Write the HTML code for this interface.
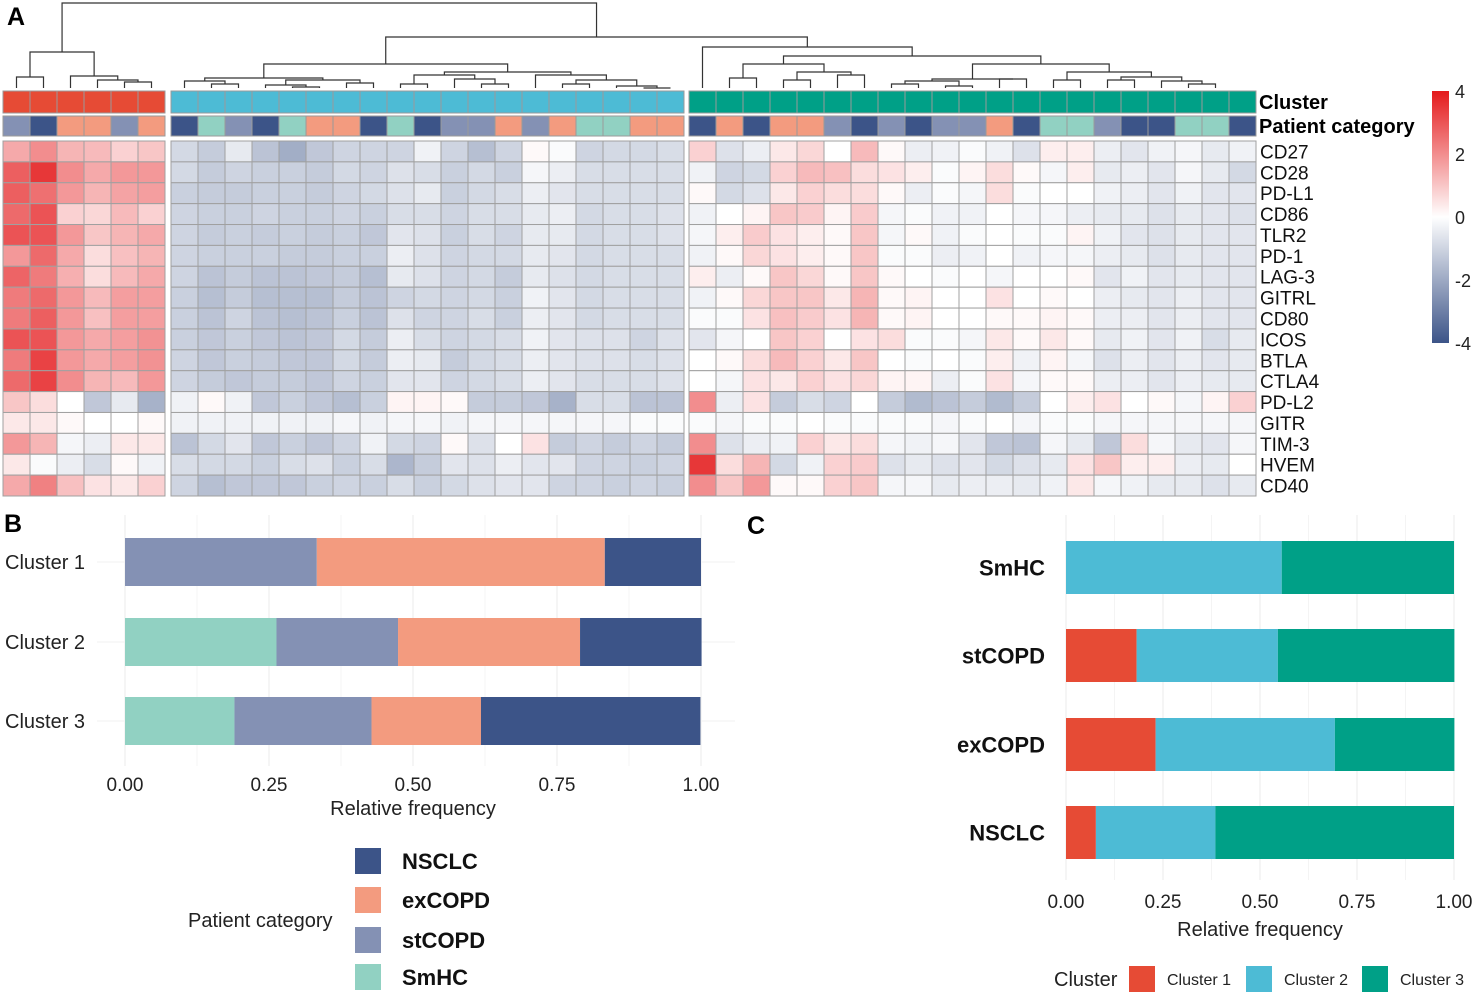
<!DOCTYPE html>
<html><head><meta charset="utf-8"><style>
html,body{margin:0;padding:0;background:#fff;}
svg{display:block;font-family:"Liberation Sans",sans-serif;}
</style></head><body>
<svg id="fig" width="1476" height="994" viewBox="0 0 1476 994">
<text x="7" y="25" font-size="25" font-weight="bold">A</text>
<text x="4" y="532" font-size="25" font-weight="bold">B</text>
<text x="747" y="534" font-size="25" font-weight="bold">C</text>
<g id="dendro"></g>
<g id="heat"></g>
<g id="cbar"></g>
<g id="chartB"></g>
<g id="chartC"></g>
</svg>
<script>
// ===== Heatmap data =====
const genes=["CD27","CD28","PD-L1","CD86","TLR2","PD-1","LAG-3","GITRL","CD80","ICOS","BTLA","CTLA4","PD-L2","GITR","TIM-3","HVEM","CD40"];
const clusterSizes=[6,19,21];
const patientCats=[
 ["st","NS","ex","ex","st","ex"],
 ["NS","Sm","st","NS","Sm","ex","ex","NS","Sm","NS","st","st","ex","st","ex","Sm","Sm","ex","ex"],
 ["NS","ex","NS","ex","ex","st","NS","st","NS","st","st","ex","NS","Sm","Sm","st","NS","NS","Sm","Sm","NS"]];
const heatC1=[
[1.5,2,1.3,1.2,0.8,1],[2.8,3.5,2,1.5,1.8,1.8],[2.8,2.5,1.8,1.3,1.6,1.7],[2.6,3,0.8,0.7,1.2,0.8],
[3,3,1.8,1,1.3,1.5],[1.8,2.6,1.5,0.6,1.1,1.3],[2.7,2.3,1.4,0.6,1.2,1.5],[2.3,2.6,1.8,1.2,1.7,1.7],
[2.3,2.8,1.8,1.1,1.7,1.7],[3,3,1.8,1.5,1.7,1.9],[2.3,3.3,1.8,1.5,1.7,1.9],[2.6,3.3,2,1.3,1.2,1.8],
[1,0.6,0,-1.3,-0.5,-1.8],[0.4,0.4,0.1,0,0,0.1],[1.8,1.3,-0.2,-0.4,0.4,0.4],[0.4,-0.1,-0.4,-0.8,0.1,-0.3],
[1.5,2.2,1.1,0.5,0.4,0.8]];
const heatC2=[
[-0.9,-1.2,-0.5,-1.4,-1.9,-1.3,-1.0,-1.0,-1.0,-0.3,-1.0,-1.5,-1.0,0.1,-0.1,-1.0,-0.9,-0.9,-0.8],
[-0.9,-1.2,-1.0,-1.1,-1.1,-1.2,-0.9,-1.0,-0.7,-0.8,-1.1,-0.9,-1.1,-0.2,-0.4,-0.8,-0.8,-0.8,-0.8],
[-1.1,-1.2,-1.2,-1.1,-1.1,-1.2,-1.0,-0.9,-0.7,-0.5,-1.1,-0.9,-0.8,-0.4,-0.6,-0.8,-0.8,-0.8,-0.8],
[-1.0,-1.1,-1.1,-1.0,-1.1,-1.1,-1.0,-1.1,-0.8,-0.8,-1.0,-0.8,-0.8,-0.5,-0.4,-0.9,-0.8,-0.8,-0.7],
[-1.0,-1.2,-1.1,-1.2,-1.1,-1.2,-1.1,-1.3,-0.6,-0.7,-1.1,-0.8,-1.0,-0.5,-0.5,-0.9,-0.8,-0.8,-0.7],
[-1.0,-1.1,-1.1,-1.1,-1.2,-1.2,-1.1,-1.1,-0.4,-0.7,-1.0,-0.9,-0.9,-0.5,-0.6,-0.9,-0.8,-0.8,-0.8],
[-1.0,-1.4,-1.2,-1.4,-1.4,-1.3,-1.2,-1.5,-0.5,-0.7,-1.0,-0.9,-1.2,-0.5,-0.7,-0.9,-0.8,-0.8,-0.8],
[-1.1,-1.5,-1.2,-1.5,-1.5,-1.5,-1.2,-1.4,-1.0,-0.9,-1.0,-0.9,-1.1,-0.3,-0.6,-0.9,-0.8,-0.8,-0.8],
[-1.1,-1.4,-1.0,-1.4,-1.5,-1.4,-1.1,-1.4,-0.7,-1.0,-1.0,-0.8,-1.1,-0.4,-0.6,-0.9,-0.8,-0.8,-0.8],
[-1.1,-1.3,-1.1,-1.3,-1.4,-1.3,-0.9,-1.2,-0.4,-0.8,-1.0,-0.9,-0.8,-0.3,-0.6,-0.7,-0.7,-1.0,-0.7],
[-1.0,-1.3,-1.1,-1.2,-1.3,-1.3,-0.9,-1.2,-0.4,-0.5,-1.2,-0.9,-0.8,-0.4,-0.6,-0.7,-0.7,-0.8,-0.7],
[-1.0,-1.2,-1.3,-1.2,-1.2,-1.3,-1.0,-1.1,-0.6,-0.6,-1.0,-0.9,-0.8,-0.4,-0.6,-0.8,-0.8,-0.8,-0.7],
[-0.3,0.1,-0.3,-1.3,-1.1,-1.3,-1.5,-1.1,0.2,0.2,0.1,-1.2,-1.2,-1.3,-1.8,-0.8,-0.8,-1.4,-1.4],
[-0.3,-0.3,-0.3,-0.3,-0.3,-0.3,-0.2,-0.3,-0.2,-0.2,-0.3,-0.2,-0.2,-0.2,-0.2,-0.2,-0.2,-0.1,-0.1],
[-1.4,-0.9,-0.6,-1.3,-1.1,-1.3,-1.0,-0.3,-0.9,-1.0,0.1,-0.7,0,0.5,-1.2,-1.0,-1.2,-1.0,-1.2],
[-0.8,-0.9,-0.9,-1.1,-0.8,-0.7,-1.1,-0.8,-1.7,-1.2,-0.6,-0.7,-0.4,-0.6,-0.6,-1.0,-1.0,-1.1,-1.0],
[-1.0,-1.5,-1.3,-1.3,-1.3,-1.1,-1.0,-1.1,-0.8,-1.1,-0.9,-0.7,-0.6,-0.6,-1.0,-1.0,-1.1,-1.0,-1.1]];
const heatC3=[
[0.8,-0.7,-0.4,0.4,0.7,0,1.2,0.1,-0.4,-0.3,-0.1,-0.3,-0.7,0.3,0.3,-0.4,-0.6,-0.3,-0.2,-0.5,-0.3],
[-0.3,-1.0,-0.9,0.8,1.2,1.1,0.6,0.5,0.3,-0.1,0.2,0.6,0.1,-0.2,0.3,-0.5,-0.4,-0.6,-0.2,-0.5,-0.9],
[0.1,-0.9,-0.7,0.4,0.8,0.6,0.6,0.1,-0.4,-0.1,-0.2,0.6,-0.1,0,0,-0.3,-0.4,-0.6,-0.3,-0.6,-0.6],
[-0.3,0,0.2,1.0,0.9,0.2,0.9,-0.2,-0.1,-0.3,-0.3,0,-0.2,-0.2,-0.4,-0.5,-0.5,-0.7,-0.5,-0.6,-0.7],
[-0.2,0.3,0.9,0.5,0.3,0.1,1.0,-0.2,0.1,-0.3,-0.1,0,-0.1,-0.1,0.2,-0.3,-0.6,-0.7,-0.5,-0.6,-0.6],
[-0.3,0.1,0.7,0.5,0.3,0.1,1.0,-0.1,-0.1,-0.4,-0.3,0,-0.3,-0.2,-0.2,-0.4,-0.5,-0.7,-0.5,-0.6,-0.6],
[0.3,-0.4,0.1,1.0,0.7,0.1,1.0,0.1,0,-0.1,0,-0.2,0,0,0.1,-0.6,-0.3,-0.6,-0.5,-0.6,-0.6],
[-0.3,0.1,0.7,1.0,1.0,0.4,1.3,0.1,0.2,0,0,0.5,0,0.1,0,-0.4,-0.5,-0.6,-0.4,-0.6,-0.6],
[-0.1,-0.1,0.5,1.1,0.9,0.5,1.3,0.1,0.2,0,0,0.1,0.1,0.2,0.1,-0.4,-0.4,-0.6,-0.4,-0.6,-0.6],
[-0.6,-0.2,0,1.0,0.8,0,0.5,0.6,-0.1,-0.1,-0.2,0.4,0.1,0.4,0.1,-0.5,-0.3,-0.6,-0.3,-0.8,-0.5],
[0,0.1,0.6,1.2,0.8,0.4,1.0,0,-0.1,0,-0.1,0.3,-0.3,0.2,-0.2,-0.7,-0.4,-0.6,-0.4,-0.6,-0.5],
[0,-0.2,0.5,0.4,0.8,0.5,0.7,0.2,0.2,-0.4,-0.1,0.5,-0.2,0.1,0.1,-0.4,-0.4,-0.6,-0.4,-0.5,-0.5],
[2.0,-0.4,0.5,-1.2,-0.8,-1.0,0,-1.2,-1.6,-1.4,-1.2,-1.6,-1.2,0,0.3,0.5,0,0.1,-0.2,0.2,0.8],
[-0.1,-0.2,-0.1,-0.1,0,-0.1,-0.1,-0.1,-0.1,-0.2,-0.1,0,-0.2,-0.1,-0.1,-0.2,-0.2,-0.2,-0.2,-0.2,-0.2],
[2.0,-0.7,-0.4,-0.3,0.8,0.4,0.6,-0.2,-0.3,-0.2,-0.6,-1.3,-1.4,-0.2,-0.5,-1.3,0.6,-0.2,-0.5,-0.6,-0.2],
[3.5,0.6,1.3,-0.9,-0.3,0.8,0.9,-0.7,-0.5,-0.7,-0.6,-0.9,-0.7,-0.5,0.5,1.0,0.3,0.3,-0.4,-0.5,0],
[2.0,1.0,1.8,0.1,0.1,0.8,1.0,-0.2,-0.2,-0.5,-0.4,-0.4,-0.5,-0.3,0.4,-0.2,-0.3,-0.5,-0.5,-0.7,-0.5]];
const scaleTicks=[4,2,0,-2,-4];
// dendrogram trees: [height(px), left, right], leaves = column index within cluster
const treeC1=[52,[77,0,1],[76,2,[80,3,[82,4,5]]]];
const treeC2=[64,[78,[81,0,[84,1,2]],[80,[85,3,[87,4,5]],[83,6,7]]],[72,[75,[84,8,9],[79,10,[84,11,12]]],[75,13,[80,[84,14,15],[86,16,[88,17,18]]]]]];
const treeC3=[47,0,[56,[64,[78,1,2],[72,[80,3,4],[75,5,6]]],[64,[79,[81,[84,7,8],[86,9,10]],[79,11,12]],[72,[80,13,14],[77,[80,15,16],[81,17,[84,18,19]]]]]]];
// ===== Panel B data =====
const bCategories=["Cluster 1","Cluster 2","Cluster 3"];
const bSeriesNames=["SmHC","stCOPD","exCOPD","NSCLC"];
const bSmHC=[0,0.263,0.190];
const bStCOPD=[0.333,0.211,0.238];
const bExCOPD=[0.500,0.316,0.190];
const bNSCLC=[0.167,0.211,0.381];
const xTicks=[0,0.25,0.5,0.75,1];
const xTickLabels=["0.00","0.25","0.50","0.75","1.00"];
// ===== Panel C data =====
const cCategories=["SmHC","stCOPD","exCOPD","NSCLC"];
const cSeriesNames=["Cluster 1","Cluster 2","Cluster 3"];
const cCluster1=[0,0.182,0.231,0.077];
const cCluster2=[0.556,0.364,0.462,0.308];
const cCluster3=[0.444,0.455,0.308,0.615];

const NS="http://www.w3.org/2000/svg";
function mk(tag,attrs,parent,txt){const e=document.createElementNS(NS,tag);for(const k in attrs)e.setAttribute(k,attrs[k]);if(txt!==undefined)e.textContent=txt;parent.appendChild(e);return e;}
const catColor={NS:"#3c5488",ex:"#f39b7f",st:"#8491b4",Sm:"#91d1c2"};
const catName={NS:"NSCLC",ex:"exCOPD",st:"stCOPD",Sm:"SmHC"};
const clColor=["#e64b35","#4dbbd5","#00a087"];
function heatColor(v){
  let t=Math.max(-1,Math.min(1,v/4));
  let c= t>=0?[228,26,28]:[60,84,136];
  const a=Math.abs(t);
  const r=Math.round(255+(c[0]-255)*a),g=Math.round(255+(c[1]-255)*a),b=Math.round(255+(c[2]-255)*a);
  return `rgb(${r},${g},${b})`;
}
// ===== Heatmap =====
const heat=document.getElementById('heat');
const cw=27, rowTop=141, rh=(496-141)/17;
const clusterX=[3,171,689];
const heats=[heatC1,heatC2,heatC3];
for(let k=0;k<3;k++){
  for(let j=0;j<clusterSizes[k];j++){
    const x=clusterX[k]+j*cw;
    const c=mk('rect',{x:x,y:91,width:cw,height:22,fill:clColor[k],stroke:"#9a9a9a","stroke-width":1},heat);
    
    
    const p=mk('rect',{x:x,y:116,width:cw,height:20,fill:catColor[patientCats[k][j]],stroke:"#9a9a9a","stroke-width":1},heat);
    
    
    for(let i=0;i<genes.length;i++){
      const r=mk('rect',{x:x,y:rowTop+i*rh,width:cw,height:rh,fill:heatColor(heats[k][i][j]),stroke:"#a0a0a0","stroke-width":1},heat);
      
      
    }
  }
}
genes.forEach((g,i)=>{
  const t=mk('text',{x:1260,y:rowTop+i*rh+rh/2+7,"font-size":19,fill:"#111"},heat,g);
  
  
});
let t1=mk('text',{x:1259,y:109,"font-size":20,"font-weight":"bold"},heat,"Cluster");


let t2=mk('text',{x:1259,y:133,"font-size":20,"font-weight":"bold"},heat,"Patient category");


// ===== Dendrogram =====
const dg=document.getElementById('dendro');
function draw(node,k){
  if(typeof node==='number') return {x:clusterX[k]+node*cw+cw/2,y:88};
  const L=draw(node[1],k),R=draw(node[2],k),h=node[0];
  const p=mk('path',{d:`M${L.x},${L.y}V${h}H${R.x}V${R.y}`,fill:"none",stroke:"#333","stroke-width":1.2},dg);
  
  
  return {x:(L.x+R.x)/2,y:h};
}
const n1=draw(treeC1,0),n2=draw(treeC2,1),n3=draw(treeC3,2);
function join(A,B,h){const p=mk('path',{d:`M${A.x},${A.y}V${h}H${B.x}V${B.y}`,fill:"none",stroke:"#333","stroke-width":1.2},dg);


return {x:(A.x+B.x)/2,y:h};}
const n23=join(n2,n3,37);
join(n1,n23,3);
// ===== Color scale =====
const cb=document.getElementById('cbar');
const grad=mk('linearGradient',{id:"hg",x1:0,y1:0,x2:0,y2:1},mk('defs',{},cb));
[[0,4],[0.5,0],[1,-4]].forEach(s=>mk('stop',{offset:s[0],"stop-color":heatColor(s[1])},grad));
mk('stop',{offset:0.25,"stop-color":heatColor(2)},grad);
let cbr=mk('rect',{x:1432,y:91,width:17,height:252,fill:"url(#hg)"},cb);


// reorder stops
Array.from(grad.children).sort((a,b)=>a.getAttribute('offset')-b.getAttribute('offset')).forEach(s=>grad.appendChild(s));
scaleTicks.forEach(v=>{
  const y=91+(4-v)/8*252;
  const t=mk('text',{x:1455,y:y+7,"font-size":18,fill:"#222"},cb,String(v));
  
  
});
// ===== Panel B =====
const gb=document.getElementById('chartB');
const bx0=125,bx1=701;
const bX=v=>bx0+v*(bx1-bx0);
const bRowY=[538,618,697], bH=48;
for(let t=0;t<=8;t++){const l=mk('line',{x1:bX(t/8),x2:bX(t/8),y1:515,y2:766,stroke:t%2?"#f4f4f4":"#ebebeb","stroke-width":1},gb);

}
bRowY.forEach(y=>{const l=mk('line',{x1:97,x2:735,y1:y+bH/2,y2:y+bH/2,stroke:"#f2f2f2"},gb);

});
const bSeries=[bSmHC,bStCOPD,bExCOPD,bNSCLC], bColors=[catColor.Sm,catColor.st,catColor.ex,catColor.NS];
bCategories.forEach((c,i)=>{
  let acc=0;
  bSeries.forEach((s,k)=>{
    if(s[i]>0){
      const r=mk('rect',{x:bX(acc),y:bRowY[i],width:bX(acc+s[i])-bX(acc),height:bH,fill:bColors[k]},gb);
      
      
    }
    acc+=s[i];
  });
  const t=mk('text',{x:5,y:bRowY[i]+bH/2+7,"font-size":20,fill:"#222"},gb,c);
  
  
});
xTicks.forEach((v,i)=>{const t=mk('text',{x:bX(v),y:791,"font-size":19,fill:"#222","text-anchor":"middle"},gb,xTickLabels[i]);

});
let bt=mk('text',{x:413,y:815,"font-size":20,fill:"#222","text-anchor":"middle"},gb,"Relative frequency");


let lt=mk('text',{x:188,y:927,"font-size":20,fill:"#222"},gb,"Patient category");


const legOrder=["NSCLC","exCOPD","stCOPD","SmHC"], legCol=[catColor.NS,catColor.ex,catColor.st,catColor.Sm], legY=[848,887,927,964];
legOrder.forEach((n,i)=>{
  const r=mk('rect',{x:355,y:legY[i],width:26,height:26,fill:legCol[i]},gb);
  
  
  const t=mk('text',{x:402,y:legY[i]+21,"font-size":22,"font-weight":"bold",fill:"#111"},gb,n);
  
  
});
// ===== Panel C =====
const gc=document.getElementById('chartC');
const cx0=1066,cx1=1454;
const cX=v=>cx0+v*(cx1-cx0);
const cRowY=[541,629,718,806], cH=53;
for(let t=0;t<=8;t++){const l=mk('line',{x1:cX(t/8),x2:cX(t/8),y1:515,y2:880,stroke:t%2?"#f4f4f4":"#ebebeb"},gc);

}
const cSeries=[cCluster1,cCluster2,cCluster3];
cCategories.forEach((c,i)=>{
  let acc=0;
  cSeries.forEach((s,k)=>{
    if(s[i]>0){
      const r=mk('rect',{x:cX(acc),y:cRowY[i],width:cX(acc+s[i])-cX(acc),height:cH,fill:clColor[k]},gc);
      
      
    }
    acc+=s[i];
  });
  const t=mk('text',{x:1045,y:cRowY[i]+cH/2+8,"font-size":22,"font-weight":"bold","text-anchor":"end",fill:"#111"},gc,c);
  
  
});
xTicks.forEach((v,i)=>{const t=mk('text',{x:cX(v),y:908,"font-size":19,fill:"#222","text-anchor":"middle"},gc,xTickLabels[i]);

});
let ct=mk('text',{x:1260,y:936,"font-size":20,fill:"#222","text-anchor":"middle"},gc,"Relative frequency");


let clt=mk('text',{x:1054,y:986,"font-size":20,fill:"#222"},gc,"Cluster");


const cKeyX=[1129,1246,1362];
cSeriesNames.forEach((n,k)=>{
  const r=mk('rect',{x:cKeyX[k],y:966,width:26,height:26,fill:clColor[k]},gc);
  
  
  const t=mk('text',{x:cKeyX[k]+38,y:985,"font-size":16,fill:"#222"},gc,n);
  
  
});
</script>
</body></html>
